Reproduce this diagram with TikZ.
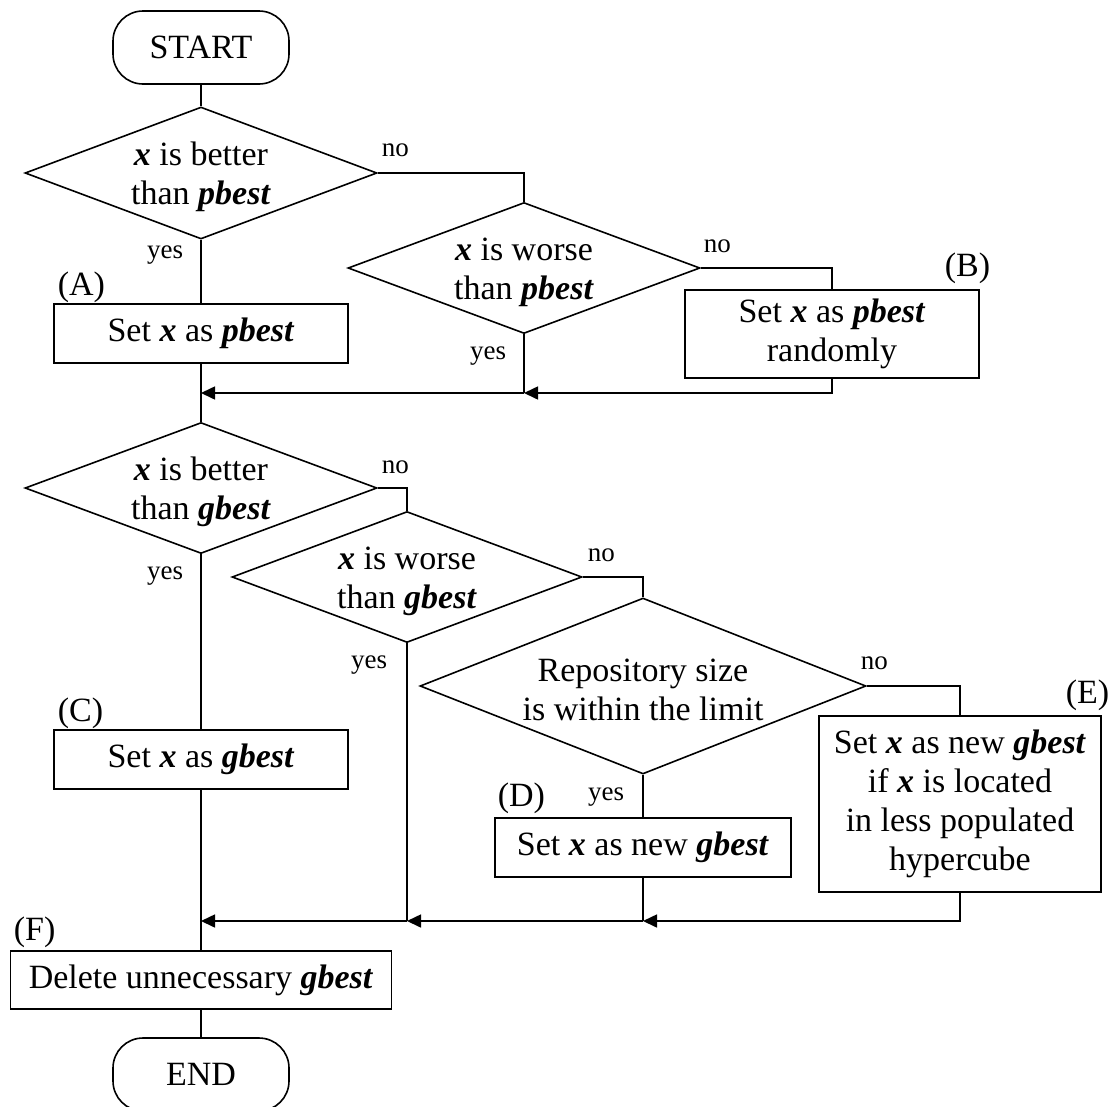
\documentclass[tikz,border=0pt]{standalone}
\usepackage{fontspec}
\setmainfont{Liberation Serif}
\usetikzlibrary{shapes.geometric,arrows.meta}
\newcommand{\emx}[1]{\textbf{\textit{#1}}}
\begin{document}
\begin{tikzpicture}[x=1pt,y=-1pt,
  line width=1.6pt,
  txt/.style={font=\fontsize{34}{39}\selectfont},
  lbl/.style={font=\fontsize{27}{30}\selectfont, inner sep=0pt},
  term/.style={draw, rounded corners=30pt, minimum width=176pt, minimum height=73pt, txt, inner sep=0pt},
  proc/.style={draw, rectangle, txt, align=center, inner sep=0pt},
  dec/.style={draw, diamond, inner sep=0pt},
  dtext/.style={txt, align=center, inner sep=0pt, yshift=-4pt},
  arr/.style={-{Triangle[length=14pt,width=13pt]}}
]
\useasboundingbox (0,0) rectangle (1111,1106);

% terminals
\node[term] (start) at (201,47.5) {START};
\node[term] (end) at (201,1074.5) {END};

% decisions
\node[dec, minimum width=352pt, minimum height=132pt] (d1) at (201,173) {};
\node[dtext] (t1) at (d1) {\emx{x} is better\\than \emx{pbest}};
\node[dec, minimum width=352pt, minimum height=131pt] (d2) at (524,268) {};
\node[dtext] (t2) at (d2) {\emx{x} is worse\\than \emx{pbest}};
\node[dec, minimum width=352pt, minimum height=131pt] (d3) at (201,488) {};
\node[dtext] (t3) at (d3) {\emx{x} is better\\than \emx{gbest}};
\node[dec, minimum width=350pt, minimum height=131pt] (d4) at (407,577) {};
\node[dtext] (t4) at (d4) {\emx{x} is worse\\than \emx{gbest}};
\node[dec, minimum width=446pt, minimum height=176pt] (d5) at (643,686) {};
\node[dtext] (t5) at (d5) {Repository size\\is within the limit};

% processes
\node[proc, minimum width=294pt, minimum height=59pt] (pA) at (201,333.5) {Set \emx{x} as \emx{pbest}};
\node[proc, minimum width=294pt, minimum height=88pt] (pB) at (832,334) {Set \emx{x} as \emx{pbest}\\randomly};
\node[proc, minimum width=294pt, minimum height=59pt] (pC) at (201,759.5) {Set \emx{x} as \emx{gbest}};
\node[proc, minimum width=296pt, minimum height=59pt] (pD) at (643,847.5) {Set \emx{x} as new \emx{gbest}};
\node[proc, minimum width=282pt, minimum height=176pt] (pE) at (960,804) {Set \emx{x} as new \emx{gbest}\\if \emx{x} is located\\in less populated\\hypercube};
\node[proc, minimum width=381pt, minimum height=58pt] (pF) at (201,980) {Delete unnecessary \emx{gbest}};

% merge levels
\coordinate (m1) at (0,393);
\coordinate (m2) at (0,921);

% labels
\node[lbl, anchor=west] (no1) at (381,150) {no};
\node[lbl, anchor=east] (yes1) at (184,255) {yes};
\node[txt, inner sep=0pt, anchor=west] (lA) at (57,287) {(A)};
\node[lbl, anchor=west] (no2) at (703,246) {no};
\node[lbl, anchor=east] (yes2) at (507,356) {yes};
\node[txt, inner sep=0pt, anchor=east] (lB) at (991,268) {(B)};
\node[lbl, anchor=west] (no3) at (381,467) {no};
\node[lbl, anchor=east] (yes3) at (184,576) {yes};
\node[txt, inner sep=0pt, anchor=west] (lC) at (57,713) {(C)};
\node[lbl, anchor=west] (no4) at (587,555) {no};
\node[lbl, anchor=east] (yes4) at (388,665) {yes};
\node[lbl, anchor=west] (no5) at (860,663) {no};
\node[lbl, anchor=east] (yes5) at (625,797) {yes};
\node[txt, inner sep=0pt, anchor=west] (lD) at (497,798) {(D)};
\node[txt, inner sep=0pt, anchor=east] (lE) at (1110,695) {(E)};
\node[txt, inner sep=0pt, anchor=west] (lF) at (13,932) {(F)};

% connectors, upper part
\draw (start.south) -- (d1.north);
\draw (d1.east) -| (d2.north);
\draw (d1.south) -- (pA.north);
\draw (d2.east) -| (pB.north);
\draw (pA.south) -- (d3.north);
\draw (d2.south) -- (d2.south |- m1);
\draw[arr] (pB.south) |- (d2.south |- m1);
\draw[arr] (d2.south |- m1) -- (pA.south |- m1);

% connectors, lower part
\draw (d3.east) -| (d4.north);
\draw (d3.south) -- (pC.north);
\draw (pC.south) -- (pF.north);
\draw (d4.east) -| (d5.north);
\draw (d4.south) -- (d4.south |- m2);
\draw (d5.east) -| (pE.north);
\draw (d5.south) -- (pD.north);
\draw (pD.south) -- (pD.south |- m2);
\draw[arr] (pE.south) |- (pD.south |- m2);
\draw[arr] (pD.south |- m2) -- (d4.south |- m2);
\draw[arr] (d4.south |- m2) -- (pC.south |- m2);
\draw (pF.south) -- (end.north);
\end{tikzpicture}
\end{document}
